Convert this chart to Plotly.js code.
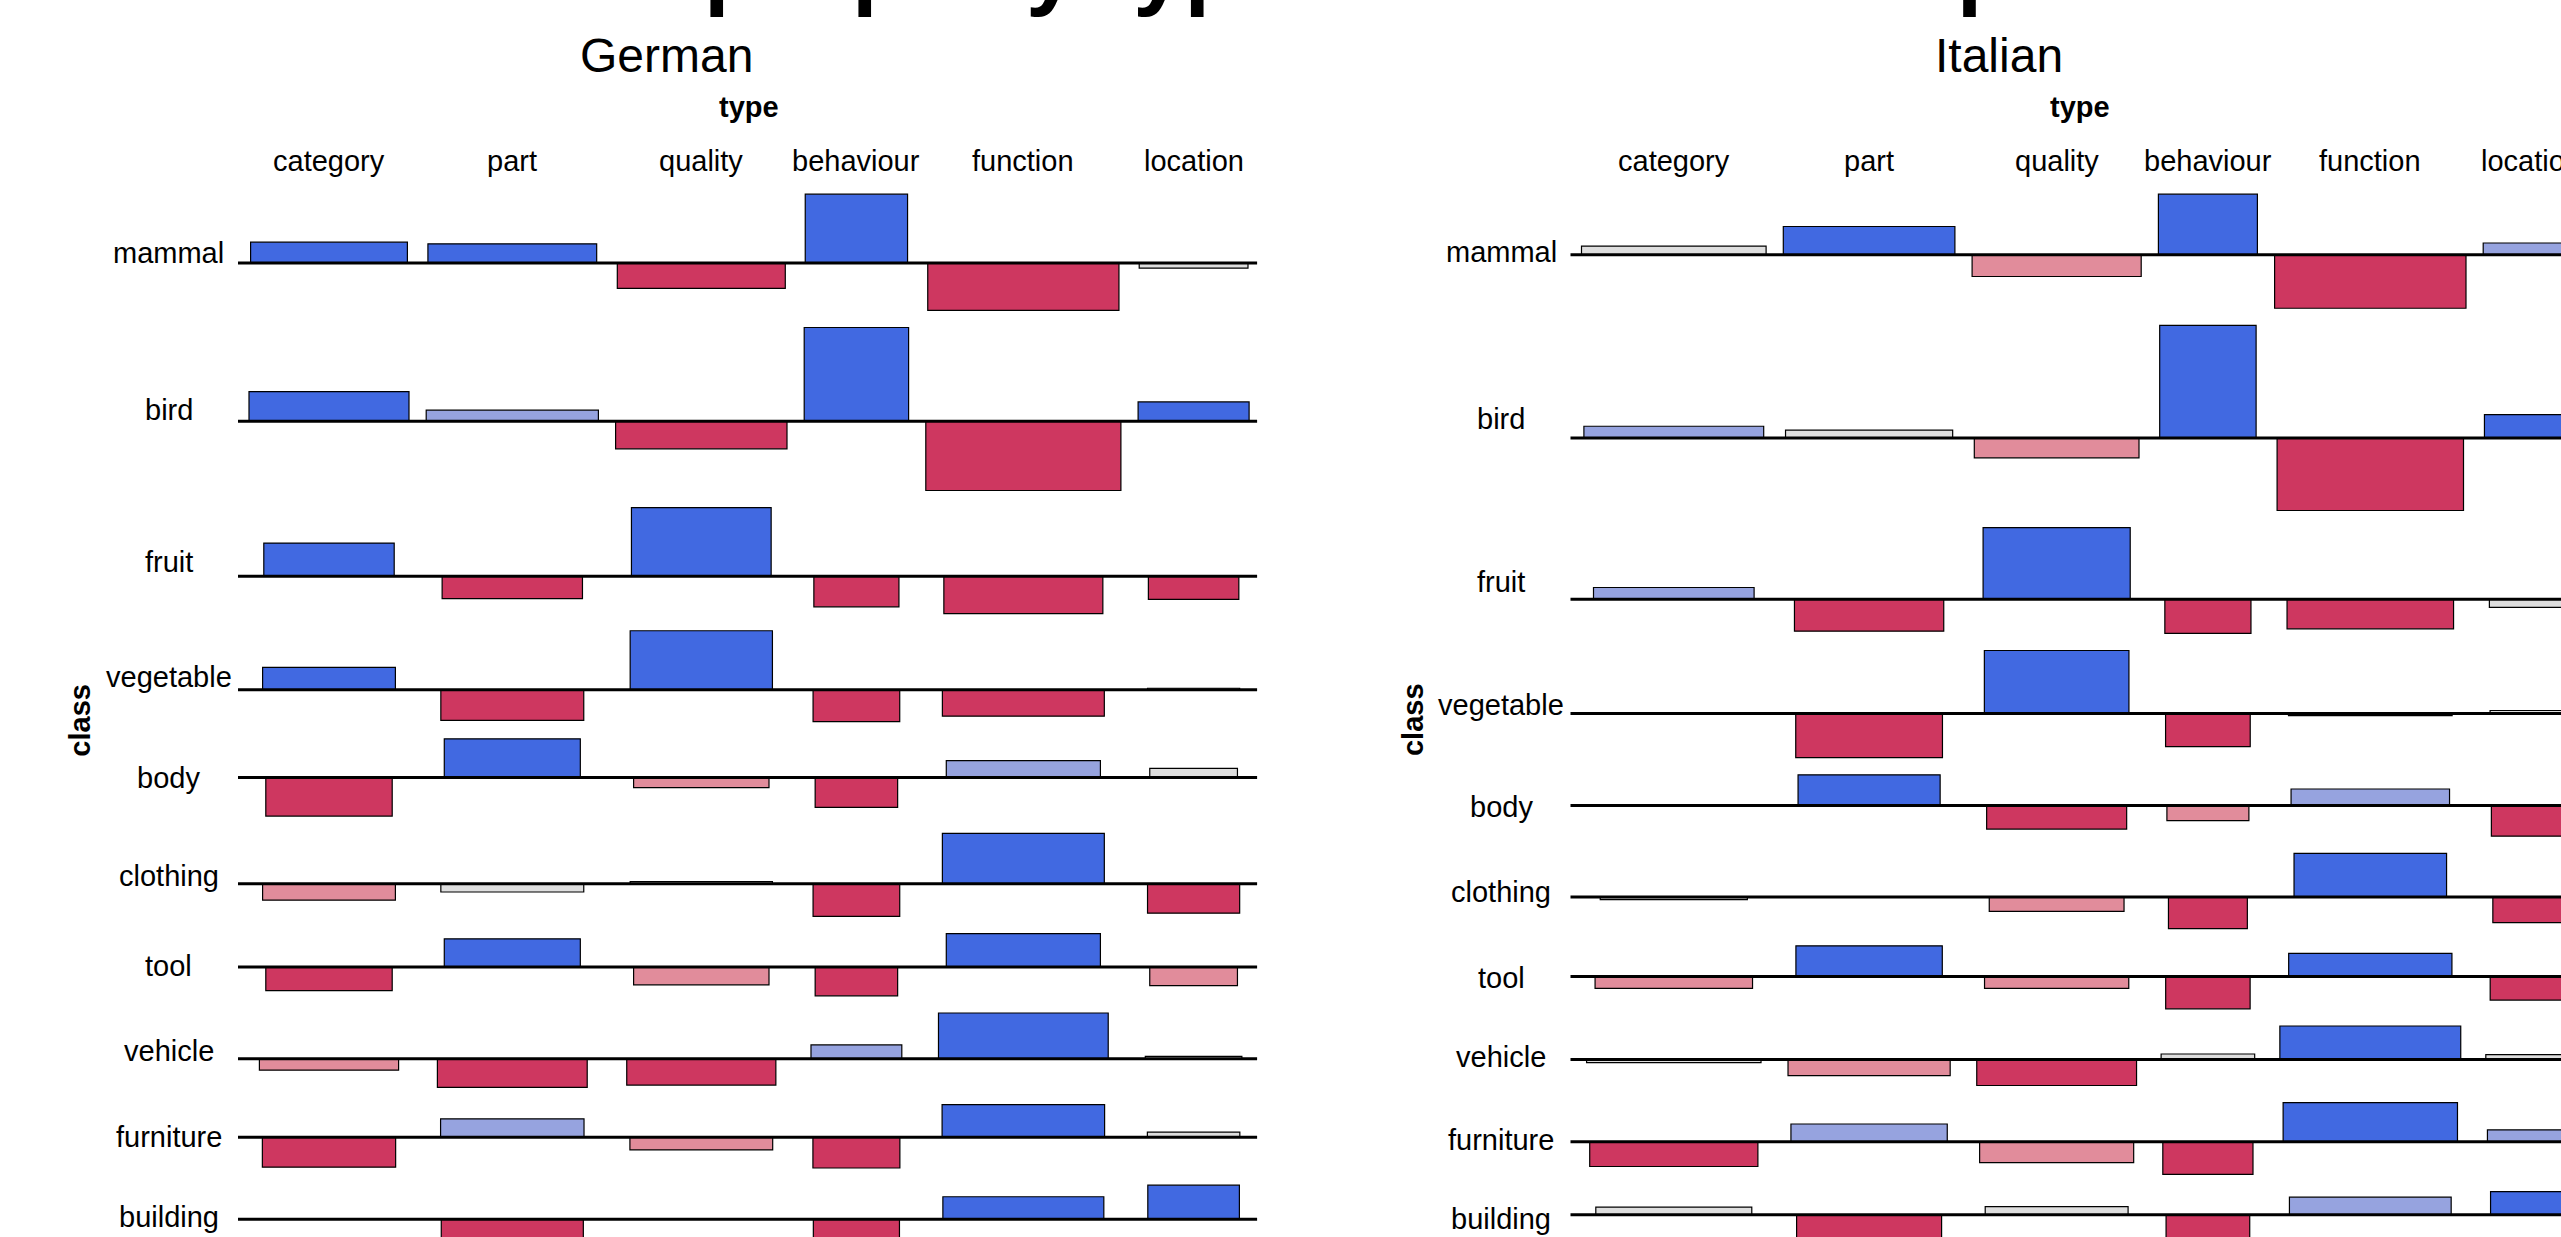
<!DOCTYPE html>
<html>
<head>
<meta charset="utf-8">
<script src="https://cdn.plot.ly/plotly-3.0.1.min.js"></script>
<style>
html,body{margin:0;padding:0;overflow:hidden;background:#fff;}
#chart{width:2561px;height:1237px;}
</style>
</head>
<body>
<div id="chart"></div>
<script>
// ---------------- data ----------------
const mainTitle = 'Distribution of property types across concept classes';
const panelTitles = ['German', 'Italian'];
const rowVariable = 'class';
const colVariable = 'type';
const classes = ['mammal','bird','fruit','vegetable','body','clothing','tool','vehicle','furniture','building'];
const types = ['category','part','quality','behaviour','function','location'];

// Pearson residuals (bar heights), rows = classes, columns = types
const germanResiduals = [
  [ 4.43,  4.09, -5.34, 14.60, -10.00, -1.08],
  [ 6.25,  2.33, -5.85, 19.85, -14.68,  4.09],
  [ 7.01, -4.75, 14.51, -6.50,  -7.92, -4.92],
  [ 4.75, -6.50, 12.50, -6.76,  -5.59,  0.32],
  [-8.18,  8.18, -2.16, -6.33,   3.58,  1.93],
  [-3.50, -1.76,  0.42, -6.93,  10.68, -6.25],
  [-5.00,  6.00, -3.75, -6.08,   7.10, -3.92],
  [-2.42, -6.08, -5.59,  2.92,   9.68,  0.51],
  [-6.33,  3.92, -2.67, -6.50,   6.93,  1.08],
  [-0.05, -5.93,  0.05, -4.66,   4.75,  7.20]
];
const italianResiduals = [
  [ 1.55,  5.05, -3.88, 10.82,  -9.55,  2.11],
  [ 2.11,  1.41, -3.52, 20.11, -12.93,  4.20],
  [ 2.11, -5.68, 12.79, -6.07,  -5.27, -1.43],
  [ 0.18, -7.88, 11.25, -5.91,  -0.36,  0.54],
  [ 0.03,  5.48, -4.21, -2.68,   2.95, -5.48],
  [-0.45, -0.05, -2.54, -5.63,   7.80, -4.57],
  [-2.11,  5.48, -2.11, -5.77,   4.14, -4.21],
  [-0.54, -2.88, -4.64,  0.98,   5.98,  0.89],
  [-4.43,  3.16, -3.73, -5.84,   6.96,  2.11],
  [ 1.38, -5.36,  1.48, -4.29,   3.16,  4.16]
];

// relative bar widths (square root of expected counts) = row factor x column factor
const germanRowWidth  = [0.98, 1.00, 0.815, 0.83, 0.79, 0.83, 0.79, 0.87, 0.833, 0.825];
const germanColWidth  = [1.60, 1.722, 1.714, 1.044, 1.951, 1.11];
const italianRowWidth = [1.00, 0.974, 0.87, 0.855, 0.828, 0.797, 0.853, 0.945, 0.911, 0.845];
const italianColWidth = [1.846, 1.716, 1.691, 0.99, 1.914, 0.95];

// ---------------- layout / style ----------------
const FONT = 'Liberation Sans, Arial, Helvetica, sans-serif';
const W = 2561, H = 1237;
const GAP = 17.2;        // spacing between cells
const WIDTH_UNIT = 100;  // px per width unit
const panels = [
  {title: panelTitles[0], res: germanResiduals,  rowW: germanRowWidth,  colW: germanColWidth,  x0: 249,    top: 194.2, pxPerRes: 4.72},
  {title: panelTitles[1], res: italianResiduals, rowW: italianRowWidth, colW: italianColWidth, x0: 1581.5, top: 194.2, pxPerRes: 5.60}
];

function shade(r) {
  if (r > 4) return '#4169E1';
  if (r > 2) return '#96A3DF';
  if (r >= -2) return '#DEDEDE';
  if (r >= -4) return '#E18C9B';
  return '#CE3760';
}

const traces = [];
const annotations = [];

panels.forEach(p => {
  // column slots
  const slotLeft = [];
  let x = p.x0;
  p.colW.forEach(w => { slotLeft.push(x); x += w * WIDTH_UNIT + GAP; });
  const xEnd = x - GAP;
  const slotCenter = slotLeft.map((l, j) => l + p.colW[j] * WIDTH_UNIT / 2);

  // row slots: each row is as tall as its largest positive + largest negative residual
  const baselines = [], rowTop = [], rowBot = [];
  let y = p.top;
  p.res.forEach(row => {
    const up = Math.max(0, ...row) * p.pxPerRes;
    const dn = Math.max(0, ...row.map(v => -v)) * p.pxPerRes;
    rowTop.push(y);
    const b = y + up;
    baselines.push(b);
    rowBot.push(b + dn);
    y = b + dn + GAP;
  });

  const xs = [], ys = [], bases = [], ws = [], cols = [];
  p.res.forEach((row, i) => {
    row.forEach((r, j) => {
      xs.push(slotCenter[j]);
      ws.push(p.colW[j] * p.rowW[i] * WIDTH_UNIT);
      bases.push(baselines[i]);
      ys.push(-r * p.pxPerRes);
      cols.push(shade(r));
    });
  });
  traces.push({
    type: 'bar', x: xs, y: ys, base: bases, width: ws,
    marker: {color: cols, line: {color: '#000', width: 1.2}},
    hoverinfo: 'skip', showlegend: false
  });

  const lx = [], ly = [];
  baselines.forEach(b => { lx.push(p.x0 - 11, xEnd + 8, null); ly.push(b, b, null); });
  traces.push({
    type: 'scatter', mode: 'lines', x: lx, y: ly,
    line: {color: '#000', width: 3}, hoverinfo: 'skip', showlegend: false
  });

  const txt = (text, ax, ay, size, extra) => Object.assign({
    text: text, x: ax, y: ay, xref: 'x', yref: 'y', showarrow: false,
    xanchor: 'center', yanchor: 'middle',
    font: {family: FONT, size: size, color: '#000'}
  }, extra || {});

  // panel title
  annotations.push(txt(p.title, p.x0 + 417, 55, 48));
  // column variable + levels
  annotations.push(txt('<b>' + colVariable + '</b>', (p.x0 + xEnd) / 2, 107, 29));
  types.forEach((t, j) => annotations.push(txt(t, slotCenter[j], 161, 29)));
  // row levels
  classes.forEach((c, i) => annotations.push(txt(c, p.x0 - 80.5, (rowTop[i] + rowBot[i]) / 2 + 1, 29)));
  // row variable
  const panelMid = (p.top + rowBot[rowBot.length - 1]) / 2;
  annotations.push(txt('<b>' + rowVariable + '</b>', p.x0 - 169, panelMid, 29, {textangle: -90}));
});

const layout = {
  width: W, height: H,
  margin: {l: 0, r: 0, t: 0, b: 0, pad: 0},
  paper_bgcolor: '#fff', plot_bgcolor: '#fff',
  barmode: 'overlay', bargap: 0,
  showlegend: false,
  xaxis: {range: [0, W], visible: false, fixedrange: true},
  yaxis: {range: [H, 0], visible: false, fixedrange: true},
  title: {
    text: '<b>' + mainTitle + '</b>',
    font: {family: FONT, size: 92, color: '#000'},
    xref: 'container', yref: 'container',
    x: 49.8 / W, xanchor: 'left',
    y: 1, yanchor: 'bottom',
    pad: {b: 2.5, t: 0, l: 0, r: 0}
  },
  annotations: annotations
};

Plotly.newPlot('chart', traces, layout, {staticPlot: true, displayModeBar: false});
</script>
</body>
</html>
